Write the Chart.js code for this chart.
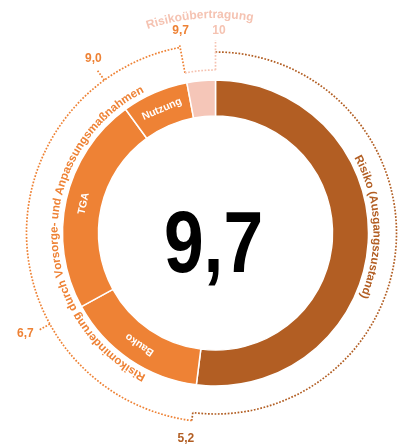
<!DOCTYPE html>
<html>
<head>
<meta charset="utf-8">
<script src="https://cdn.jsdelivr.net/npm/chart.js@4"></script>
<style>
  html, body { margin: 0; padding: 0; background: #fff; }
  #wrap { width: 405px; height: 446px; }
</style>
</head>
<body>
<div id="wrap"><canvas id="risk-chart"></canvas></div>
<script>
// Ring-Segmente, im Uhrzeigersinn ab 12 Uhr
const segments = ['Risiko (Ausgangszustand)', 'Bauko', 'TGA', 'Nutzung', 'Risikoübertragung'];
const segmentValues = [5.2, 1.5, 2.3, 0.7, 0.3];
const segmentColors = ['#b25e23', '#ee8235', '#ee8235', '#ee8235', '#f5c6b8'];
// Beschriftung im Ring (leer = keine)
const innerLabels = ['', 'Bauko', 'TGA', 'Nutzung', ''];
// Werte an den Segmentgrenzen (5,2 / 6,7 / 9,0 / 9,7 / 10)
const tickLabels = ['5,2', '6,7', '9,0', '9,7', '10'];
const centerLabel = '9,7';
// Gruppen-Beschriftungen außen
const groupLabels = ['Risiko (Ausgangszustand)', 'Risikominderung durch Vorsorge- und Anpassungsmaßnahmen', 'Risikoübertragung'];

const BROWN = '#b25e23';
const ORANGE = '#ee8235';
const PINK = '#f5c3b2';
const FONT = '"Liberation Sans", Arial, sans-serif';

// gepunktete Linien
function dots(ctx, color) {
  ctx.strokeStyle = color;
  ctx.lineWidth = 1.7;
  ctx.setLineDash([1.7, 1.6]);
  ctx.lineCap = 'butt';
}
function dottedArc(ctx, x, y, r, a0, a1, color) {
  ctx.save();
  dots(ctx, color);
  ctx.beginPath();
  ctx.arc(x, y, r, a0, a1);
  ctx.stroke();
  ctx.restore();
}
function dottedRadial(ctx, x, y, a, r0, r1, color) {
  ctx.save();
  dots(ctx, color);
  ctx.beginPath();
  ctx.moveTo(x + r0 * Math.cos(a), y + r0 * Math.sin(a));
  ctx.lineTo(x + r1 * Math.cos(a), y + r1 * Math.sin(a));
  ctx.stroke();
  ctx.restore();
}
// Text entlang eines Kreisbogens (im Uhrzeigersinn, Oberkante außen)
function arcText(ctx, text, x, y, r, mid) {
  const total = ctx.measureText(text).width;
  let a = mid - total / r / 2;
  for (const ch of text) {
    const w = ctx.measureText(ch).width;
    const ca = a + w / 2 / r;
    ctx.save();
    ctx.translate(x + r * Math.cos(ca), y + r * Math.sin(ca));
    ctx.rotate(ca + Math.PI / 2);
    ctx.fillText(ch, 0, 0);
    ctx.restore();
    a += w / r;
  }
}

const ringDecor = {
  id: 'ringDecor',
  afterDatasetsDraw(chart) {
    const ctx = chart.ctx;
    const arcs = chart.getDatasetMeta(0).data;
    const cx = arcs[0].x, cy = arcs[0].y;
    const R = arcs[0].outerRadius, r0 = arcs[0].innerRadius;
    const rBrown = R + 28, rOrange = R + 36, rPink = R + 10, rTop = R + 40;
    const deg = Math.PI / 180;

    // Grenzen: 5,2 / 6,7 / 9,0 / 9,7 / 10
    const bounds = arcs.map((a) => a.endAngle);
    const start = arcs[0].startAngle;

    // Klammern
    dottedArc(ctx, cx, cy, rBrown, start, bounds[0], BROWN);
    dottedRadial(ctx, cx, cy, bounds[0], rBrown, rOrange, BROWN);
    dottedArc(ctx, cx, cy, rOrange, bounds[0], bounds[3], ORANGE);
    dottedRadial(ctx, cx, cy, bounds[1], rOrange, rOrange + 13, ORANGE);
    dottedRadial(ctx, cx, cy, bounds[2], rOrange, rOrange + 13, ORANGE);
    dottedRadial(ctx, cx, cy, bounds[3], rPink, rOrange + 2, ORANGE);
    dottedArc(ctx, cx, cy, rPink, bounds[3], bounds[4], PINK);
    dottedRadial(ctx, cx, cy, bounds[4], rPink, rTop, PINK);

    // Werte an den Grenzen
    const labelR = [R + 55, R + 62, R + 60, R + 52, R + 49];
    const labelCol = [BROWN, ORANGE, ORANGE, ORANGE, PINK];
    ctx.save();
    ctx.font = 'bold 12px ' + FONT;
    ctx.textAlign = 'center';
    ctx.textBaseline = 'middle';
    tickLabels.forEach((t, i) => {
      const a = bounds[i] + 1 * deg;
      ctx.fillStyle = labelCol[i];
      ctx.fillText(t, cx + labelR[i] * Math.cos(a), cy + labelR[i] * Math.sin(a));
    });
    ctx.restore();

    // Gruppen-Beschriftungen
    ctx.save();
    ctx.textAlign = 'center';
    ctx.textBaseline = 'alphabetic';
    ctx.font = 'bold 11.5px ' + FONT;
    ctx.fillStyle = BROWN;
    arcText(ctx, groupLabels[0], cx, cy, R + 5, -2.4 * deg);
    ctx.fillStyle = ORANGE;
    arcText(ctx, groupLabels[1], cx, cy, R + 5, 179.5 * deg);
    ctx.font = 'bold 12px ' + FONT;
    ctx.fillStyle = PINK;
    arcText(ctx, groupLabels[2], cx, cy, R + 62, -94.2 * deg);
    ctx.restore();

    // Beschriftung in den Segmenten
    ctx.save();
    ctx.font = 'bold 10.5px ' + FONT;
    ctx.fillStyle = '#fff';
    ctx.textAlign = 'center';
    ctx.textBaseline = 'middle';
    const rMid = (R + r0) / 2;
    arcs.forEach((arc, i) => {
      if (!innerLabels[i]) return;
      const m = (arc.startAngle + arc.endAngle) / 2;
      ctx.save();
      ctx.translate(cx + rMid * Math.cos(m), cy + rMid * Math.sin(m));
      ctx.rotate(m + Math.PI / 2);
      ctx.fillText(innerLabels[i], 0, 0);
      ctx.restore();
    });
    ctx.restore();

    // Wert in der Mitte
    ctx.save();
    ctx.font = 'bold 87px ' + FONT;
    ctx.fillStyle = '#000';
    ctx.textAlign = 'center';
    ctx.textBaseline = 'alphabetic';
    ctx.translate(cx - 2, 272);
    ctx.scale(0.82, 1);
    ctx.fillText(centerLabel, 0, 0);
    ctx.restore();
  },
};

new Chart(document.querySelector('#risk-chart'), {
  type: 'doughnut',
  data: {
    labels: segments,
    datasets: [
      {
        data: segmentValues,
        backgroundColor: segmentColors,
        borderColor: '#fff',
        borderWidth: 1.5,
        hoverOffset: 0,
      },
    ],
  },
  options: {
    responsive: true,
    maintainAspectRatio: false,
    animation: false,
    radius: 153,
    cutout: '76.5%',
    layout: { padding: { left: 26, right: 0, top: 20, bottom: 0 } },
    plugins: {
      legend: { display: false },
      tooltip: { enabled: false },
    },
  },
  plugins: [ringDecor],
});
</script>
</body>
</html>
